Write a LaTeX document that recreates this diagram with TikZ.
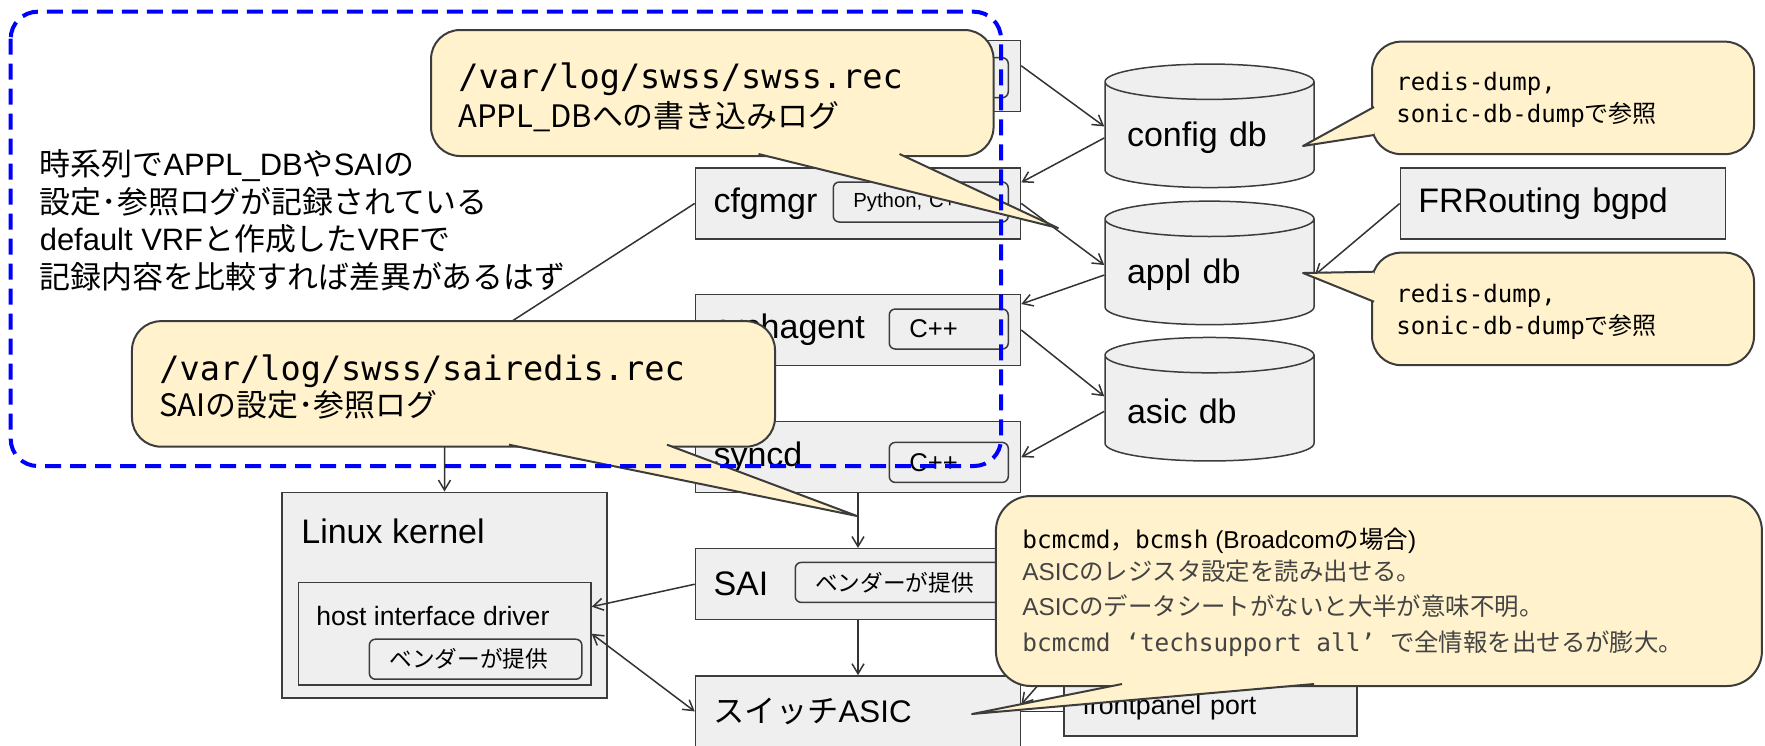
\documentclass[tikz,border=0pt]{standalone}
\usepackage{fontspec}
\setmainfont{Liberation Sans}
\setmonofont{DejaVu Sans Mono}
\newfontfamily\jp{Noto Sans CJK JP}
\usetikzlibrary{arrows.meta,shapes.geometric}

\definecolor{boxgray}{HTML}{EFEFEF}
\definecolor{edgegray}{HTML}{3C3C3C}
\definecolor{linegray}{HTML}{333333}
\definecolor{notefill}{HTML}{FFF2CC}
\definecolor{textgray}{HTML}{444444}

\newcommand\lblfont{\fontsize{19.35}{23}\selectfont}

\tikzset{
  proc/.style={draw=edgegray, fill=boxgray, line width=0.3mm, minimum height=14.2mm,
    inner xsep=3.6mm, text width=57.8mm, align=left, font=\lblfont},
  tag/.style={draw=edgegray, fill=boxgray, line width=0.3mm, rounded corners=1.2mm,
    minimum height=8mm, inner xsep=4mm, align=left, anchor=east},
  db/.style={cylinder, shape border rotate=90, aspect=0.2, anchor=shape center,
    draw=edgegray, fill=boxgray, line width=0.3mm, minimum width=41.8mm,
    minimum height=24.7mm, text width=33mm, align=left, font=\lblfont},
  note/.style={draw=edgegray, fill=notefill, line width=0.4mm, rounded corners=5.8mm},
  tail/.style={draw=edgegray, fill=notefill, line width=0.4mm, line join=round},
  txt/.style={anchor=base west, inner sep=0},
  conn/.style={draw=linegray, line width=0.3mm},
  >={Straight Barb[length=2mm,width=2.4mm]}
}

\begin{document}
\begin{tikzpicture}[x=0.2mm, y=-0.2mm]
\useasboundingbox (0,0) rectangle (1765,745);

% swss / syncd column
\node[proc] (box0) at (858,75.8) {};
\node[tag, text width=15.8mm] (box0tag) at (1009,77.7) {};
\node[proc] (cfgmgr) at (858,203.4) {cfgmgr};
\node[tag, text width=27mm, font=\fontsize{11.6}{14}\selectfont] (cfgtag) at (1009,202) {Python, C++};
\node[proc] (orch) at (858,330) {orchagent};
\node[tag, text width=15.8mm, font=\fontsize{14.6}{17}\selectfont] (orchtag) at (1009,329) {C++};
\node[proc] (syncd) at (858,457.2) {syncd};
\node[tag, text width=15.8mm, font=\fontsize{14.6}{17}\selectfont] (syncdtag) at (1009,462.4) {C++};
\node[proc] (sai) at (858,584.2) {SAI};
\node[tag, text width=34.6mm, font=\jp\fontsize{12.9}{15}\selectfont] (saitag) at (1009,582.4) {ベンダーが提供};
\node[proc, font=\fontsize{17.8}{21}\selectfont] (asic) at (858,711.4) {{\jp スイッチ}ASIC};
\node[proc, text width=51.2mm, inner xsep=3.7mm, minimum height=11.2mm,
  font=\fontsize{15.2}{18}\selectfont] (port) at (1210.5,708) {frontpanel port};

% redis databases
\node[db] (cfgdb) at (1209.5,125.8) {config db};
\node[db] (appldb) at (1209.5,262.9) {appl db};
\node[db] (asicdb) at (1209.5,399.2) {asic db};
\node[proc] (frr) at (1562.9,203.5) {FRRouting bgpd};

% kernel side
\node[proc, minimum height=41.1mm] (kernel) at (444.5,595) {};
\node[txt, font=\lblfont] (kernellbl) at (301,543) {Linux kernel};
\node[proc, text width=51.3mm, minimum height=20.5mm] (hostdrv) at (444.7,633.7) {};
\node[txt, font=\fontsize{15.1}{18}\selectfont] (hostlbl) at (316,625) {host interface driver};
\node[tag, text width=34.5mm, font=\jp\fontsize{12.9}{15}\selectfont] (hosttag) at (582.6,659.2) {ベンダーが提供};

% connectors
\draw[conn,->] ([yshift=2mm]box0.east) -- ([yshift=2.3mm]cfgdb.west);
\draw[conn,->] (cfgdb.west) -- ([yshift=4.2mm]cfgmgr.east);
\draw[conn,->] (cfgmgr.east) -- ([yshift=2mm]appldb.west);
\draw[conn,->] (appldb.west) -- ([yshift=5.2mm]orch.east);
\draw[conn,->] (orch.east) -- ([yshift=3mm]asicdb.west);
\draw[conn,->] (asicdb.west) -- (syncd.east);
\draw[conn,->] (frr.west) -- (appldb.east);
\draw[conn,->] (syncd) -- (sai);
\draw[conn,->] (sai) -- (asic);
\draw[conn,->] (sai.west) -- ([yshift=5.4mm]hostdrv.east);
\draw[conn,<->] (hostdrv.east) -- (asic.west);
\coordinate (bend) at (444.5,364.6);
\draw[conn,->] (cfgmgr.west) -- (bend) -- (kernel.north);
\draw[conn] (asic.east) -- (asic.east -| port.west);
\coordinate (hid) at (1061,659);
\draw[conn,->] (hid) -- ([yshift=1.4mm]asic.east);

% notes
\node[note, minimum width=112.5mm, minimum height=25.2mm] (swsslog) at (712.3,93) {};
\draw[tail] (758.5,154) -- (1058,228) -- (899.5,154);
\node[txt, font=\ttfamily\fontsize{19.1}{22}\selectfont] (swss1) at (458,88) {/var/log/swss/swss.rec};
\node[txt, font=\jp\fontsize{17.6}{21}\selectfont] (swss2) at (458,127) {APPL\_DBへの書き込みログ};

\node[note, minimum width=128.6mm, minimum height=25.1mm] (sailog) at (453.5,383.9) {};
\draw[tail] (509,444.7) -- (857,516) -- (667,444.7);
\node[txt, font=\ttfamily\fontsize{19.1}{22}\selectfont] (sai1) at (159,380) {/var/log/swss/sairedis.rec};
\node[txt, font=\jp\fontsize{17.6}{21}\selectfont] (sai2) at (159,416.7) {SAIの設定･参照ログ};

\node[note, minimum width=76.4mm, minimum height=22.5mm] (dump1) at (1563,97.9) {};
\draw[tail] (1374,107) -- (1303,146) -- (1374,135);
\node[txt, font=\ttfamily\fontsize{13.7}{17}\selectfont] (dump1a) at (1396,90.7) {redis-dump,};
\node[txt, font=\ttfamily\fontsize{13.7}{17}\selectfont] (dump1b) at (1396,122.7) {sonic-db-dump{\jp で参照}};

\node[note, minimum width=76.4mm, minimum height=22.5mm] (dump2) at (1563,308.9) {};
\draw[tail] (1374,271.7) -- (1303,273) -- (1374,301.7);
\node[txt, font=\ttfamily\fontsize{13.7}{17}\selectfont] (dump2a) at (1396,302.7) {redis-dump,};
\node[txt, font=\ttfamily\fontsize{13.7}{17}\selectfont] (dump2b) at (1396,334.3) {sonic-db-dump{\jp で参照}};

\node[note, rounded corners=7mm, minimum width=153.2mm, minimum height=38mm] (bcmnote) at (1378.9,591) {};
\draw[tail] (1122,684) -- (972,714) -- (1314,684);
\node[txt, font=\fontsize{13.9}{17}\selectfont] (bcm1) at (1022,548)
  {{\ttfamily bcmcmd{\jp ，}bcmsh} (Broadcom{\jp の場合})};
\node[txt, font=\fontsize{13.9}{17}\selectfont, textgray] (bcm2) at (1022,580)
  {ASIC{\jp のレジスタ設定を読み出せる。}};
\node[txt, font=\fontsize{13.9}{17}\selectfont, textgray] (bcm3) at (1022,615)
  {ASIC{\jp のデータシートがないと大半が意味不明。}};
\node[txt, font=\fontsize{13.9}{17}\selectfont, textgray] (bcm4) at (1022,651.7)
  {{\ttfamily bcmcmd ‘techsupport all’ }{\jp で全情報を出せるが膨大。}};

% free text inside the log scope
\node[txt, font=\fontsize{17.6}{21}\selectfont] (hist1) at (39.5,175) {{\jp 時系列で}APPL\_DB{\jp や}SAI{\jp の}};
\node[txt, font=\jp\fontsize{17.6}{21}\selectfont] (hist2) at (39.5,213) {設定･参照ログが記録されている};
\node[txt, font=\fontsize{17.6}{21}\selectfont] (hist3) at (39.5,250) {default VRF{\jp と作成した}VRF{\jp で}};
\node[txt, font=\jp\fontsize{17.6}{21}\selectfont] (hist4) at (39.5,288) {記録内容を比較すれば差異があるはず};

% log scope
\draw[blue, line width=0.8mm, dash pattern=on 3.2mm off 1.8mm, rounded corners=5.4mm]
  (10.7,11.7) rectangle (1001,466);
\end{tikzpicture}
\end{document}
